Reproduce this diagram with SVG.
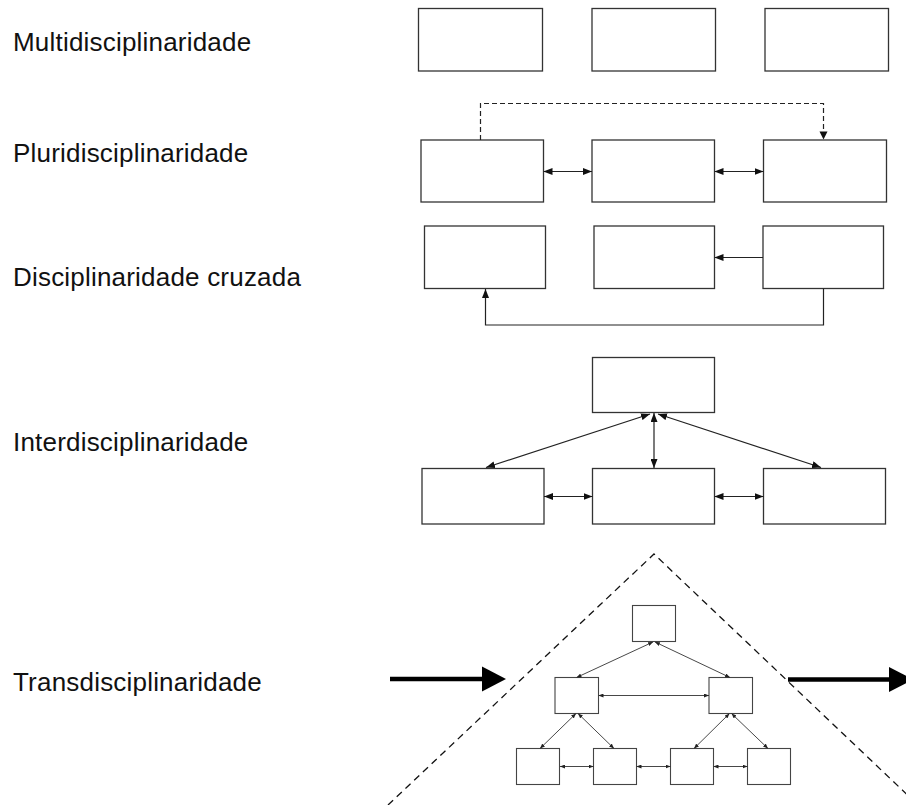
<svg xmlns="http://www.w3.org/2000/svg" width="906" height="805" viewBox="0 0 906 805">
<style>
.lbl{font-family:"Liberation Sans",Arial,sans-serif;font-size:26px;letter-spacing:0.2px;fill:#111}
.box{fill:#fff;stroke:#333;stroke-width:1.3}
.sbox{fill:#fff;stroke:#444;stroke-width:1.1}
.ln{fill:none;stroke:#222;stroke-width:1.2}
.sln{fill:none;stroke:#333;stroke-width:0.9}
.dash{fill:none;stroke:#222;stroke-width:1.2;stroke-dasharray:5 3}
.tri{fill:none;stroke:#111;stroke-width:1.3;stroke-dasharray:7 5}
.big{fill:none;stroke:#000;stroke-width:4.5}
</style>
<defs>
<marker id="am" markerUnits="userSpaceOnUse" markerWidth="9" markerHeight="7" refX="9" refY="3.5" orient="auto-start-reverse"><path d="M0,0 L9,3.5 L0,7 z" fill="#111"/></marker>
<marker id="as" markerUnits="userSpaceOnUse" markerWidth="5" markerHeight="4" refX="5" refY="2" orient="auto-start-reverse"><path d="M0,0 L5,2 L0,4 z" fill="#222"/></marker>
</defs>
<g id="labels">
<text class="lbl" x="13" y="51">Multidisciplinaridade</text>
<text class="lbl" x="13" y="162">Pluridisciplinaridade</text>
<text class="lbl" x="13" y="286">Disciplinaridade cruzada</text>
<text class="lbl" x="13" y="451">Interdisciplinaridade</text>
<text class="lbl" x="13" y="691">Transdisciplinaridade</text>
</g>
<g id="multi">
<rect id="m1" class="box" x="418.5" y="8.5" width="124" height="62.5"/>
<rect id="m2" class="box" x="592" y="8.5" width="123.5" height="62.5"/>
<rect id="m3" class="box" x="765" y="8.5" width="123.5" height="62.5"/>
</g>
<g id="pluri">
<rect id="p1" class="box" x="421" y="140" width="122.5" height="62"/>
<rect id="p2" class="box" x="592" y="140" width="122.5" height="62"/>
<rect id="p3" class="box" x="763.5" y="140" width="123" height="62"/>
</g>
<g id="cross">
<rect id="c1" class="box" x="424.5" y="226" width="121" height="62.5"/>
<rect id="c2" class="box" x="594" y="226" width="120.5" height="62.5"/>
<rect id="c3" class="box" x="763" y="226" width="120.5" height="62.5"/>
</g>
<g id="inter">
<rect id="i0" class="box" x="592.5" y="357.5" width="122" height="55"/>
<rect id="i1" class="box" x="422" y="468.5" width="122" height="55.5"/>
<rect id="i2" class="box" x="592.5" y="468.5" width="122" height="55.5"/>
<rect id="i3" class="box" x="763.5" y="468.5" width="122" height="55.5"/>
</g>
<g id="trans">
<rect id="t0" class="sbox" x="632.5" y="605.5" width="43" height="36"/>
<rect id="t1" class="sbox" x="555" y="677.5" width="43.5" height="36"/>
<rect id="t2" class="sbox" x="709" y="677.5" width="43.5" height="36"/>
<rect id="t3" class="sbox" x="516.5" y="748.5" width="43" height="36"/>
<rect id="t4" class="sbox" x="593.5" y="748.5" width="43" height="36"/>
<rect id="t5" class="sbox" x="670.5" y="748.5" width="43" height="36"/>
<rect id="t6" class="sbox" x="747.5" y="748.5" width="43" height="36"/>
</g>
<g id="connectors">
<path class="dash" d="M480.5,140 V103.5 H823.5 V132" />
<path d="M819.5,131.5 L827.5,131.5 L823.5,139.5 z" fill="#111"/>
<path class="ln" d="M543.5,171.5 H592" marker-start="url(#am)" marker-end="url(#am)"/>
<path class="ln" d="M714.5,171.5 H763.5" marker-start="url(#am)" marker-end="url(#am)"/>
<path class="ln" d="M763,257.5 H714.5" marker-end="url(#am)"/>
<path class="ln" d="M823.5,288.5 V325 H485.5 V289" marker-end="url(#am)"/>
<path class="ln" d="M650,414 L486,467.5" marker-start="url(#am)" marker-end="url(#am)"/>
<path class="ln" d="M654,413 V468" marker-start="url(#am)" marker-end="url(#am)"/>
<path class="ln" d="M658,414 L821,467.5" marker-start="url(#am)" marker-end="url(#am)"/>
<path class="ln" d="M544,496.5 H592.5" marker-start="url(#am)" marker-end="url(#am)"/>
<path class="ln" d="M714.5,496.5 H763.5" marker-start="url(#am)" marker-end="url(#am)"/>
<path class="tri" d="M388,805 L654,554 L918,805"/>
<path class="big" d="M390,679 H484"/>
<path d="M482,666.5 L506,679 L482,691.5 z" fill="#000"/>
<path class="big" d="M788,679.5 H891"/>
<path d="M889,667 L913,679.5 L889,692 z" fill="#000"/>
<path class="sln" d="M653,642 L576.5,677.5" marker-start="url(#as)" marker-end="url(#as)"/>
<path class="sln" d="M655,642 L730,677.5" marker-start="url(#as)" marker-end="url(#as)"/>
<path class="sln" d="M598.5,695.5 H709" marker-start="url(#as)" marker-end="url(#as)"/>
<path class="sln" d="M576,713.5 L540,748.5" marker-start="url(#as)" marker-end="url(#as)"/>
<path class="sln" d="M578,713.5 L614,748.5" marker-start="url(#as)" marker-end="url(#as)"/>
<path class="sln" d="M729.5,713.5 L694,748.5" marker-start="url(#as)" marker-end="url(#as)"/>
<path class="sln" d="M731.5,713.5 L768,748.5" marker-start="url(#as)" marker-end="url(#as)"/>
<path class="sln" d="M560,766.5 H593.5" marker-start="url(#as)" marker-end="url(#as)"/>
<path class="sln" d="M636.5,766.5 H670.5" marker-start="url(#as)" marker-end="url(#as)"/>
<path class="sln" d="M713.5,766.5 H747.5" marker-start="url(#as)" marker-end="url(#as)"/>
</g>
</svg>
